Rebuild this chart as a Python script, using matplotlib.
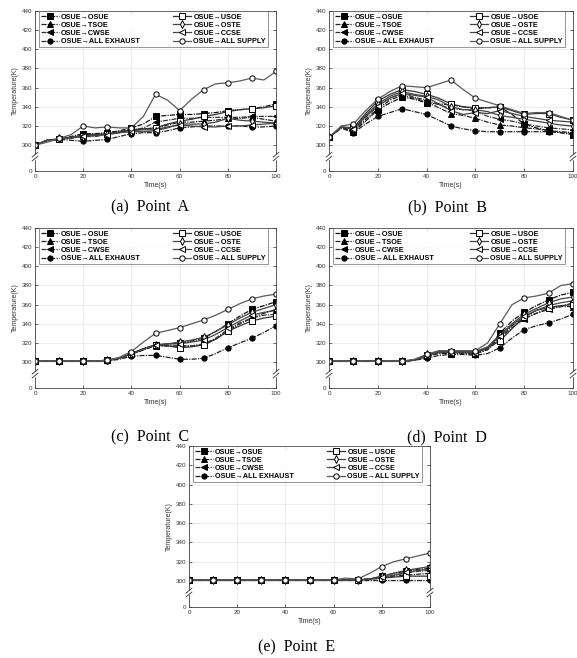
import numpy as np
import matplotlib
matplotlib.use("Agg")
import matplotlib.pyplot as plt

plt.rcParams['font.family'] = ['Liberation Sans', 'DejaVu Sans']

time_s = [0, 5, 10, 15, 20, 25, 30, 35, 40, 45, 50, 55, 60, 65, 70, 75, 80, 85, 90, 95, 100]

series_names = ["OSUE\u2192OSUE", "OSUE\u2192TSOE", "OSUE\u2192CWSE", "OSUE\u2192ALL EXHAUST",
                "OSUE\u2192USOE", "OSUE\u2192OSTE", "OSUE\u2192CCSE", "OSUE\u2192ALL SUPPLY"]

# Point A
point_a = {
    "OSUE\u2192OSUE":        [300, 305, 306, 309, 312, 312, 313, 315, 318, 322, 330, 331, 332, 332, 333, 334, 336, 337, 338, 340, 343],
    "OSUE\u2192TSOE":        [300, 305, 306, 308, 311, 311, 312, 314, 316, 317, 317, 321, 324, 324, 325, 326, 328, 328, 329, 327, 325],
    "OSUE\u2192CWSE":        [300, 305, 306, 307, 309, 309, 311, 313, 315, 318, 324, 326, 328, 328, 329, 329, 329, 329, 330, 330, 330],
    "OSUE\u2192ALL EXHAUST": [300, 305, 306, 305, 304, 305, 306, 309, 312, 313, 313, 315, 318, 319, 320, 320, 320, 320, 319, 319, 320],
    "OSUE\u2192USOE":        [300, 305, 306, 308, 310, 311, 312, 314, 316, 317, 318, 322, 325, 327, 330, 332, 335, 337, 338, 339, 341],
    "OSUE\u2192OSTE":        [300, 305, 307, 308, 309, 310, 312, 313, 314, 314, 315, 318, 322, 322, 322, 324, 328, 326, 325, 324, 323],
    "OSUE\u2192CCSE":        [300, 305, 306, 308, 310, 310, 311, 313, 315, 316, 316, 319, 321, 320, 319, 319, 320, 320, 321, 322, 323],
    "OSUE\u2192ALL SUPPLY":  [300, 303, 307, 311, 320, 318, 319, 318, 318, 330, 353, 347, 336, 348, 358, 364, 365, 367, 370, 368, 377],
}

# Point B
point_b = {
    "OSUE\u2192OSUE":        [308, 318, 314, 325, 337, 344, 350, 348, 344, 343, 342, 340, 338, 339, 340, 332, 322, 318, 315, 313, 311],
    "OSUE\u2192TSOE":        [308, 318, 315, 327, 338, 347, 352, 349, 345, 339, 333, 331, 328, 324, 321, 320, 318, 317, 315, 314, 313],
    "OSUE\u2192CWSE":        [308, 318, 316, 329, 341, 349, 354, 350, 347, 342, 338, 337, 336, 330, 327, 325, 322, 320, 318, 317, 316],
    "OSUE\u2192ALL EXHAUST": [308, 318, 313, 322, 330, 334, 338, 335, 332, 326, 320, 317, 315, 314, 314, 314, 314, 314, 314, 313, 312],
    "OSUE\u2192USOE":        [308, 319, 318, 333, 346, 353, 358, 356, 353, 349, 343, 340, 339, 339, 340, 336, 332, 333, 333, 329, 326],
    "OSUE\u2192OSTE":        [308, 319, 317, 331, 343, 351, 356, 353, 351, 347, 340, 337, 337, 335, 331, 329, 327, 325, 323, 321, 320],
    "OSUE\u2192CCSE":        [308, 319, 317, 330, 341, 349, 354, 352, 350, 343, 336, 332, 334, 333, 336, 333, 330, 328, 326, 325, 324],
    "OSUE\u2192ALL SUPPLY":  [308, 320, 322, 336, 348, 356, 362, 361, 360, 364, 368, 358, 349, 345, 341, 337, 333, 334, 334, 330, 326],
}

# Point C
point_c = {
    "OSUE\u2192OSUE":        [301, 301, 301, 301, 301, 301, 302, 304, 308, 313, 318, 319, 320, 322, 325, 332, 340, 348, 355, 359, 363],
    "OSUE\u2192TSOE":        [301, 301, 301, 301, 301, 301, 302, 304, 308, 313, 317, 317, 317, 317, 318, 324, 333, 340, 346, 351, 355],
    "OSUE\u2192CWSE":        [301, 301, 301, 301, 301, 301, 302, 304, 308, 313, 317, 317, 316, 317, 319, 325, 334, 341, 346, 349, 350],
    "OSUE\u2192ALL EXHAUST": [301, 301, 301, 301, 301, 301, 301, 303, 306, 307, 307, 305, 303, 303, 304, 309, 315, 320, 325, 331, 338],
    "OSUE\u2192USOE":        [301, 301, 301, 301, 301, 301, 302, 304, 309, 314, 318, 317, 315, 316, 318, 324, 332, 338, 343, 346, 348],
    "OSUE\u2192OSTE":        [301, 301, 301, 301, 301, 301, 302, 304, 309, 314, 318, 319, 321, 323, 326, 332, 339, 346, 352, 356, 360],
    "OSUE\u2192CCSE":        [301, 301, 301, 301, 301, 301, 302, 304, 309, 314, 318, 319, 319, 321, 323, 329, 336, 343, 349, 352, 354],
    "OSUE\u2192ALL SUPPLY":  [301, 301, 301, 301, 301, 301, 302, 305, 311, 321, 330, 333, 336, 340, 344, 349, 355, 361, 366, 369, 371],
}

# Point D
point_d = {
    "OSUE\u2192OSUE":        [301, 301, 301, 301, 301, 301, 301, 302, 306, 309, 309, 309, 308, 314, 330, 343, 352, 359, 365, 370, 373],
    "OSUE\u2192TSOE":        [301, 301, 301, 301, 301, 301, 301, 302, 306, 310, 310, 310, 309, 313, 326, 338, 346, 351, 356, 358, 358],
    "OSUE\u2192CWSE":        [301, 301, 301, 301, 301, 301, 301, 302, 306, 310, 310, 310, 309, 313, 324, 336, 345, 351, 355, 358, 362],
    "OSUE\u2192ALL EXHAUST": [301, 301, 301, 301, 301, 301, 301, 302, 304, 307, 308, 308, 307, 309, 315, 325, 334, 338, 341, 345, 350],
    "OSUE\u2192USOE":        [301, 301, 301, 301, 301, 301, 301, 302, 307, 311, 311, 311, 310, 315, 322, 335, 347, 354, 357, 359, 360],
    "OSUE\u2192OSTE":        [301, 301, 301, 301, 301, 301, 301, 302, 308, 311, 311, 311, 311, 316, 328, 340, 350, 356, 362, 366, 368],
    "OSUE\u2192CCSE":        [301, 301, 301, 301, 301, 301, 301, 302, 307, 310, 310, 310, 310, 315, 327, 339, 348, 354, 359, 362, 364],
    "OSUE\u2192ALL SUPPLY":  [301, 301, 301, 301, 301, 301, 301, 303, 308, 312, 312, 312, 312, 320, 340, 360, 367, 369, 372, 380, 382],
}

# Point E
point_e = {
    "OSUE\u2192OSUE":        [301, 301, 301, 301, 301, 301, 301, 301, 301, 301, 301, 301, 301, 301, 301, 302, 305, 308, 310, 312, 313],
    "OSUE\u2192TSOE":        [301, 301, 301, 301, 301, 301, 301, 301, 301, 301, 301, 301, 301, 301, 301, 302, 303, 305, 306, 307, 308],
    "OSUE\u2192CWSE":        [301, 301, 301, 301, 301, 301, 301, 301, 301, 301, 301, 301, 301, 301, 301, 302, 304, 306, 308, 310, 311],
    "OSUE\u2192ALL EXHAUST": [301, 301, 301, 301, 301, 301, 301, 301, 301, 301, 301, 301, 301, 301, 301, 301, 301, 301, 301, 301, 301],
    "OSUE\u2192USOE":        [301, 301, 301, 301, 301, 301, 301, 301, 301, 301, 301, 301, 301, 301, 301, 302, 303, 304, 305, 305, 305],
    "OSUE\u2192OSTE":        [301, 301, 301, 301, 301, 301, 301, 301, 301, 301, 301, 301, 301, 301, 301, 302, 305, 308, 311, 313, 315],
    "OSUE\u2192CCSE":        [301, 301, 301, 301, 301, 301, 301, 301, 301, 301, 301, 301, 301, 301, 301, 302, 304, 306, 309, 311, 312],
    "OSUE\u2192ALL SUPPLY":  [301, 301, 301, 301, 301, 301, 301, 301, 301, 301, 301, 301, 301, 303, 302, 308, 315, 320, 323, 326, 329],
}

captions = ["(a)  Point  A", "(b)  Point  B", "(c)  Point  C", "(d)  Point  D", "(e)  Point  E"]
panels = [point_a, point_b, point_c, point_d, point_e]

y_tick_values = [0, 300, 320, 340, 360, 380, 400, 420, 440]
x_tick_values = [0, 20, 40, 60, 80, 100]

styles = {
    "OSUE\u2192OSUE":        dict(marker='s', mfc='black', color='#111111', ls=(0, (4, 1, 1, 1))),
    "OSUE\u2192TSOE":        dict(marker='^', mfc='black', color='#222222', ls=(0, (4, 1, 1, 1))),
    "OSUE\u2192CWSE":        dict(marker='<', mfc='black', color='#333333', ls=(0, (4, 1, 1, 1))),
    "OSUE\u2192ALL EXHAUST": dict(marker='o', mfc='black', color='#222222', ls=(0, (4, 1, 1, 1))),
    "OSUE\u2192USOE":        dict(marker='s', mfc='white', color='#333333', ls='-'),
    "OSUE\u2192OSTE":        dict(marker='d', mfc='white', color='#444444', ls='-'),
    "OSUE\u2192CCSE":        dict(marker='<', mfc='white', color='#444444', ls='-'),
    "OSUE\u2192ALL SUPPLY":  dict(marker='o', mfc='white', color='#5a5a5a', ls='-'),
}

W, H = 577, 658
fig = plt.figure(figsize=(W / 100, H / 100), dpi=100)

# axes boxes in pixels: left, top, right, bottom
boxes = [(35, 11, 276, 171), (329, 11, 573, 171), (35, 228, 276, 388),
         (329, 228, 573, 388), (189, 446, 430, 607)]
caption_pos = [(150, 207), (447, 207), (150, 437), (447, 437), (297, 647)]

Y0 = 273.0  # where the "0" tick sits after the axis break

def ymap(v):
    return Y0 if v == 0 else v

for data, box, cap, cpos in zip(panels, boxes, captions, caption_pos):
    l, t, r, b = box
    ax = fig.add_axes([l / W, 1 - b / H, (r - l) / W, (b - t) / H])
    for name in series_names:
        st = styles[name]
        ax.plot(time_s, data[name], color=st['color'], ls=st['ls'], lw=0.9,
                marker=st['marker'], markevery=2, ms=3.8, mfc=st['mfc'],
                mec='black', mew=0.7, label=name)
    ax.set_xlim(0, 100)
    ax.set_ylim(Y0, 440)
    ax.set_xticks(x_tick_values)
    ax.set_yticks([ymap(v) for v in y_tick_values])
    ax.set_yticklabels([str(v) for v in y_tick_values])
    ax.tick_params(labelsize=4.5, length=2, width=0.5, direction='in',
                   top=True, right=True, pad=2, colors='#333333')
    ax.grid(True, color='#e6e6e6', lw=0.5)
    for s in ax.spines.values():
        s.set_linewidth(0.6)
        s.set_color('#444444')
    ax.set_xlabel("Time(s)", fontsize=5, labelpad=2, color='#333333')
    ax.set_ylabel("Temperature(K)", fontsize=5, labelpad=2, color='#333333')
    # axis break marks on both vertical spines
    yb = (288 - Y0) / (440 - Y0)
    for xs in (0, 1):
        ax.add_patch(plt.Rectangle((xs - 0.012, yb - 0.012), 0.024, 0.024,
                                   transform=ax.transAxes, color='white',
                                   clip_on=False, zorder=5))
        for dy in (-0.012, 0.012):
            ax.plot([xs - 0.012, xs + 0.012], [yb + dy - 0.015, yb + dy + 0.015],
                    transform=ax.transAxes, color='#333333', lw=0.6,
                    clip_on=False, zorder=6)
    leg = ax.legend(loc='upper left', bbox_to_anchor=(0.015, 0.5, 0.952, 0.497),
                    ncol=2, mode='expand', frameon=True,
                    fancybox=False, edgecolor='#444444', handlelength=2.5,
                    labelspacing=0.15, borderpad=0.3, handletextpad=0.3,
                    borderaxespad=0.0, columnspacing=0.8, markerscale=1.0,
                    prop={'weight': 'bold', 'size': 5.2})
    leg.get_frame().set_linewidth(0.5)
    fig.text(cpos[0] / W, 1 - cpos[1] / H, cap, ha='center', va='center',
             fontsize=11.5, family='Liberation Serif')

fig.savefig("out.png", dpi=100)
